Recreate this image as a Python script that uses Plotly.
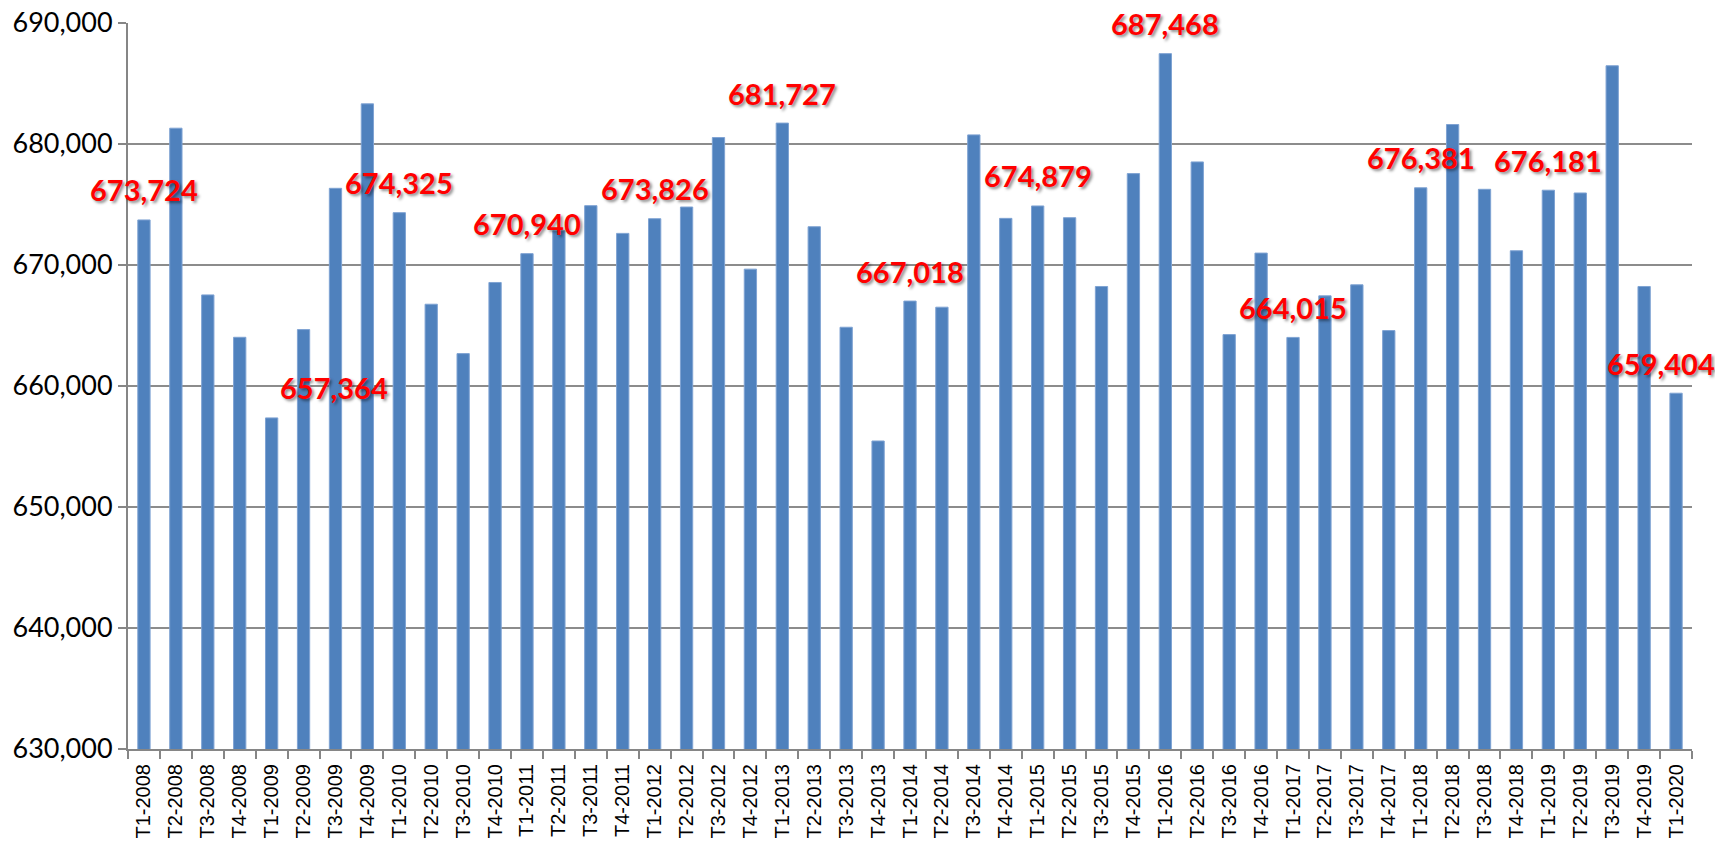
import plotly.graph_objects as go

categories = [
    "T1-2008", "T2-2008", "T3-2008", "T4-2008",
    "T1-2009", "T2-2009", "T3-2009", "T4-2009",
    "T1-2010", "T2-2010", "T3-2010", "T4-2010",
    "T1-2011", "T2-2011", "T3-2011", "T4-2011",
    "T1-2012", "T2-2012", "T3-2012", "T4-2012",
    "T1-2013", "T2-2013", "T3-2013", "T4-2013",
    "T1-2014", "T2-2014", "T3-2014", "T4-2014",
    "T1-2015", "T2-2015", "T3-2015", "T4-2015",
    "T1-2016", "T2-2016", "T3-2016", "T4-2016",
    "T1-2017", "T2-2017", "T3-2017", "T4-2017",
    "T1-2018", "T2-2018", "T3-2018", "T4-2018",
    "T1-2019", "T2-2019", "T3-2019", "T4-2019",
    "T1-2020",
]

values = [
    673724, 681306, 667528, 664026,
    657364, 664663, 676338, 683318,
    674325, 666758, 662676, 668555,
    670940, 672827, 674903, 672612,
    673826, 674792, 680533, 669659,
    681727, 673164, 664856, 655455,
    667018, 666512, 680754, 673854,
    674879, 673909, 668224, 677552,
    687468, 678518, 664249, 670984,
    664015, 667451, 668362, 664580,
    676381, 681610, 676255, 671177,
    676181, 675952, 686467, 668224,
    659404,
]

y_ticks = [630000, 640000, 650000, 660000, 670000, 680000, 690000]

# horizontal nudges (px) for a couple of labels that were dragged in the original
label_xshift = {"T1-2009": 62, "T1-2020": -15}

fig = go.Figure()
fig.add_trace(go.Bar(
    x=categories,
    y=values,
    marker=dict(color="#4F81BD", line=dict(color="#7FA3D3", width=1)),
    hoverinfo="x+y",
))

annotations = []
for c, v in zip(categories, values):
    if c.startswith("T1"):
        annotations.append(dict(
            x=c, y=v, xref="x", yref="y",
            text=f"{v:,}",
            showarrow=False,
            yanchor="middle", xanchor="center",
            yshift=30, xshift=label_xshift.get(c, 0),
            font=dict(family="Lato, 'Noto Sans', sans-serif", size=29,
                      color="#FF0000", weight="bold",
                      shadow="2px 2px 3px rgba(0,0,0,0.45)"),
        ))

fig.update_layout(
    width=1715, height=845,
    margin=dict(l=128, r=23, t=23, b=96),
    paper_bgcolor="white", plot_bgcolor="white",
    bargap=0.615,
    showlegend=False,
    annotations=annotations,
    xaxis=dict(
        type="category",
        range=[-0.5, len(categories) - 0.5],
        automargin=False,
        tickangle=-90,
        tickfont=dict(family="'Liberation Sans', Arial, sans-serif", size=20, color="#000000"),
        ticklabelstandoff=5,
        showline=True, linecolor="#868686", linewidth=2,
        ticks="outside", tickson="boundaries", ticklen=8, tickcolor="#868686", tickwidth=2,
        showgrid=False,
    ),
    yaxis=dict(
        range=[630000, 690000],
        automargin=False,
        tickvals=y_ticks,
        tickformat=",",
        tickfont=dict(family="Lato, 'Noto Sans', sans-serif", size=27, color="#000000"),
        showline=True, linecolor="#868686", linewidth=2,
        ticks="outside", ticklen=8, tickcolor="#868686", tickwidth=2,
        showgrid=True, gridcolor="#8C8C8C", gridwidth=1.5,
        zeroline=False,
    ),
)

fig.write_html(
    "out.html",
    config={"displayModeBar": False},
    post_script="document.body.style.margin='0';document.body.style.overflow='hidden';",
)
